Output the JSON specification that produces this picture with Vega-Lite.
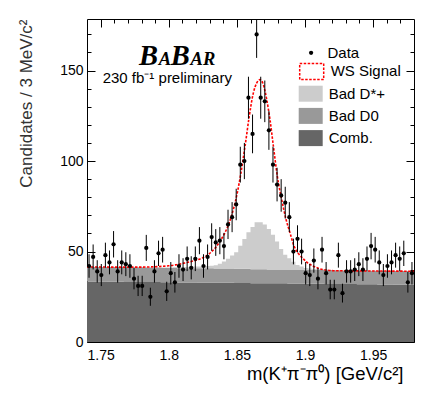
{
  "$schema": "https://vega.github.io/schema/vega-lite/v6.json",
  "autosize": {"type": "none"},
  "width": 327,
  "height": 323,
  "padding": {"left": 87, "top": 19, "right": 22, "bottom": 56},
  "config": {
    "view": {"stroke": null},
    "font": "Liberation Sans",
    "axis": {"grid": false, "zindex": 1, "tickColor": "black", "tickWidth": 1, "domainColor": "black", "domainWidth": 1, "labelColor": "black", "labelFont": "Liberation Sans", "titleFont": "Liberation Sans", "titleFontWeight": "normal", "titleColor": "black", "labelFlush": false},
    "legend": {"titleFontSize": 0, "labelFont": "Liberation Sans", "labelFontSize": 15, "labelColor": "black", "padding": 0, "orient": "none"}
  },
  "resolve": {"axis": {"x": "independent", "y": "independent"}},
  "datasets": {
    "bk": [
      {"x":1.740,"Comb":33.4,"D0":8.1,"Dst":0},{"x":1.743,"Comb":33.4,"D0":8.1,"Dst":0},{"x":1.746,"Comb":33.4,"D0":8.1,"Dst":0},{"x":1.749,"Comb":33.4,"D0":8.1,"Dst":0},
      {"x":1.752,"Comb":33.4,"D0":8.1,"Dst":0},{"x":1.755,"Comb":33.3,"D0":8.1,"Dst":0},{"x":1.758,"Comb":33.3,"D0":8.1,"Dst":0},{"x":1.761,"Comb":33.3,"D0":8.1,"Dst":0},
      {"x":1.764,"Comb":33.3,"D0":8.1,"Dst":0},{"x":1.767,"Comb":33.2,"D0":8.1,"Dst":0},{"x":1.770,"Comb":33.2,"D0":8.1,"Dst":0},{"x":1.773,"Comb":33.2,"D0":8.1,"Dst":0},
      {"x":1.776,"Comb":33.2,"D0":8.1,"Dst":0},{"x":1.779,"Comb":33.2,"D0":8.1,"Dst":0},{"x":1.782,"Comb":33.1,"D0":8.1,"Dst":0},{"x":1.785,"Comb":33.1,"D0":8.1,"Dst":0},
      {"x":1.788,"Comb":33.1,"D0":8.1,"Dst":0},{"x":1.791,"Comb":33.1,"D0":8.1,"Dst":0},{"x":1.794,"Comb":33.0,"D0":8.1,"Dst":0},{"x":1.797,"Comb":33.0,"D0":8.1,"Dst":0},
      {"x":1.800,"Comb":33.0,"D0":7.9,"Dst":0.3},{"x":1.803,"Comb":33.0,"D0":7.9,"Dst":0.4},{"x":1.806,"Comb":32.9,"D0":7.9,"Dst":0.5},{"x":1.809,"Comb":32.9,"D0":7.9,"Dst":0.6},
      {"x":1.812,"Comb":32.9,"D0":7.9,"Dst":0.7},{"x":1.815,"Comb":32.9,"D0":7.9,"Dst":0.8},{"x":1.818,"Comb":32.9,"D0":7.9,"Dst":0.9},{"x":1.821,"Comb":32.8,"D0":7.9,"Dst":1.0},
      {"x":1.824,"Comb":32.8,"D0":7.9,"Dst":1.1},{"x":1.827,"Comb":32.8,"D0":7.9,"Dst":1.3},{"x":1.830,"Comb":32.8,"D0":7.9,"Dst":1.5},{"x":1.833,"Comb":32.7,"D0":7.9,"Dst":1.8},
      {"x":1.836,"Comb":32.7,"D0":7.9,"Dst":2.6},{"x":1.839,"Comb":32.7,"D0":7.9,"Dst":3.9},{"x":1.842,"Comb":32.7,"D0":7.9,"Dst":5.4},{"x":1.845,"Comb":32.7,"D0":7.9,"Dst":7.2},
      {"x":1.848,"Comb":32.6,"D0":7.9,"Dst":9.1},{"x":1.851,"Comb":32.6,"D0":7.9,"Dst":12.7},{"x":1.854,"Comb":32.6,"D0":7.9,"Dst":16.4},{"x":1.857,"Comb":32.6,"D0":7.9,"Dst":20.1},
      {"x":1.860,"Comb":32.5,"D0":7.7,"Dst":23.4},{"x":1.863,"Comb":32.5,"D0":7.7,"Dst":26.0},{"x":1.866,"Comb":32.5,"D0":7.7,"Dst":26.0},{"x":1.869,"Comb":32.5,"D0":7.7,"Dst":24.7},
      {"x":1.872,"Comb":32.4,"D0":7.7,"Dst":22.3},{"x":1.875,"Comb":32.4,"D0":7.7,"Dst":19.2},{"x":1.878,"Comb":32.4,"D0":7.7,"Dst":15.5},{"x":1.881,"Comb":32.4,"D0":7.7,"Dst":11.3},
      {"x":1.884,"Comb":32.4,"D0":7.7,"Dst":8.1},{"x":1.887,"Comb":32.3,"D0":7.7,"Dst":6.3},{"x":1.890,"Comb":32.3,"D0":7.7,"Dst":4.4},{"x":1.893,"Comb":32.3,"D0":7.7,"Dst":2.6},
      {"x":1.896,"Comb":32.3,"D0":7.7,"Dst":1.7},{"x":1.899,"Comb":32.2,"D0":7.7,"Dst":1.0},{"x":1.902,"Comb":32.2,"D0":7.7,"Dst":0.7},{"x":1.905,"Comb":32.2,"D0":7.7,"Dst":0.5},
      {"x":1.908,"Comb":32.2,"D0":7.7,"Dst":0.4},{"x":1.911,"Comb":32.2,"D0":7.7,"Dst":0.3},{"x":1.914,"Comb":32.1,"D0":7.7,"Dst":0.2},{"x":1.917,"Comb":32.1,"D0":7.7,"Dst":0},
      {"x":1.920,"Comb":32.1,"D0":7.5,"Dst":0},{"x":1.923,"Comb":32.1,"D0":7.5,"Dst":0},{"x":1.926,"Comb":32.0,"D0":7.5,"Dst":0},{"x":1.929,"Comb":32.0,"D0":7.5,"Dst":0},
      {"x":1.932,"Comb":32.0,"D0":7.5,"Dst":0},{"x":1.935,"Comb":32.0,"D0":7.5,"Dst":0},{"x":1.938,"Comb":31.9,"D0":7.5,"Dst":0},{"x":1.941,"Comb":31.9,"D0":7.5,"Dst":0},
      {"x":1.944,"Comb":31.9,"D0":7.5,"Dst":0},{"x":1.947,"Comb":31.9,"D0":7.5,"Dst":0},{"x":1.950,"Comb":31.9,"D0":7.5,"Dst":0},{"x":1.953,"Comb":31.8,"D0":7.5,"Dst":0},
      {"x":1.956,"Comb":31.8,"D0":7.5,"Dst":0},{"x":1.959,"Comb":31.8,"D0":7.5,"Dst":0},{"x":1.962,"Comb":31.8,"D0":7.5,"Dst":0},{"x":1.965,"Comb":31.7,"D0":7.5,"Dst":0},
      {"x":1.968,"Comb":31.7,"D0":7.5,"Dst":0},{"x":1.971,"Comb":31.7,"D0":7.5,"Dst":0},{"x":1.974,"Comb":31.7,"D0":7.5,"Dst":0},{"x":1.977,"Comb":31.7,"D0":7.5,"Dst":0},
      {"x":1.980,"Comb":31.7,"D0":7.5,"Dst":0}
    ],
    "h": [
      {"m":1.7415,"n":42,"err":6.5},{"m":1.7445,"n":47,"err":6.9},{"m":1.7475,"n":39,"err":6.2},{"m":1.7505,"n":37,"err":6.1},
      {"m":1.7535,"n":48,"err":6.9},{"m":1.7565,"n":44,"err":6.6},{"m":1.7595,"n":54,"err":7.3},{"m":1.7625,"n":39,"err":6.2},
      {"m":1.7655,"n":44,"err":6.6},{"m":1.7685,"n":43,"err":6.6},{"m":1.7715,"n":42,"err":6.5},{"m":1.7745,"n":35,"err":5.9},
      {"m":1.7775,"n":31,"err":5.6},{"m":1.7805,"n":31,"err":5.6},{"m":1.7835,"n":52,"err":7.2},{"m":1.7865,"n":25,"err":5.0},
      {"m":1.7895,"n":39,"err":6.2},{"m":1.7925,"n":49,"err":7.0},{"m":1.7955,"n":51,"err":7.1},{"m":1.7985,"n":28,"err":5.3},
      {"m":1.8015,"n":38,"err":6.2},{"m":1.8045,"n":33,"err":5.7},{"m":1.8075,"n":42,"err":6.5},{"m":1.8105,"n":40,"err":6.3},
      {"m":1.8135,"n":46,"err":6.8},{"m":1.8165,"n":41,"err":6.4},{"m":1.8195,"n":46,"err":6.8},{"m":1.8225,"n":56,"err":7.5},
      {"m":1.8255,"n":42,"err":6.5},{"m":1.8285,"n":47,"err":6.9},{"m":1.8315,"n":58,"err":7.6},{"m":1.8345,"n":55,"err":7.4},
      {"m":1.8375,"n":56,"err":7.5},{"m":1.8405,"n":53,"err":7.3},{"m":1.8435,"n":65,"err":8.1},{"m":1.8465,"n":69,"err":8.3},
      {"m":1.8495,"n":76,"err":8.7},{"m":1.8525,"n":98,"err":9.9},{"m":1.8555,"n":100,"err":10.0},{"m":1.8585,"n":135,"err":11.6},
      {"m":1.8615,"n":115,"err":10.7},{"m":1.8645,"n":170,"err":13.0},{"m":1.8675,"n":135,"err":11.6},{"m":1.8705,"n":133,"err":11.5},
      {"m":1.8735,"n":117,"err":10.8},{"m":1.8765,"n":98,"err":9.9},{"m":1.8795,"n":87,"err":9.3},{"m":1.8825,"n":81,"err":9.0},
      {"m":1.8855,"n":77,"err":8.8},{"m":1.8885,"n":69,"err":8.3},{"m":1.8915,"n":50,"err":7.1},{"m":1.8945,"n":57,"err":7.5},
      {"m":1.8975,"n":50,"err":7.1},{"m":1.9005,"n":38,"err":6.2},{"m":1.9035,"n":37,"err":6.1},{"m":1.9065,"n":45,"err":6.7},
      {"m":1.9095,"n":35,"err":5.9},{"m":1.9125,"n":51,"err":7.1},{"m":1.9155,"n":38,"err":6.2},{"m":1.9185,"n":29,"err":5.4},
      {"m":1.9215,"n":29,"err":5.4},{"m":1.9245,"n":48,"err":6.9},{"m":1.9275,"n":27,"err":5.2},{"m":1.9305,"n":39,"err":6.2},
      {"m":1.9335,"n":39,"err":6.2},{"m":1.9365,"n":40,"err":6.3},{"m":1.9395,"n":43,"err":6.6},{"m":1.9425,"n":40,"err":6.3},
      {"m":1.9455,"n":46,"err":6.8},{"m":1.9485,"n":53,"err":7.3},{"m":1.9515,"n":51,"err":7.1},{"m":1.9545,"n":44,"err":6.6},
      {"m":1.9575,"n":37,"err":6.1},{"m":1.9605,"n":42,"err":6.5},{"m":1.9635,"n":44,"err":6.6},{"m":1.9665,"n":48,"err":6.9},
      {"m":1.9695,"n":46,"err":6.8},{"m":1.9725,"n":49,"err":7.0},{"m":1.9755,"n":33,"err":5.7},{"m":1.9785,"n":38,"err":6.2}
    ],
    "sig": [
      {"m":1.740,"v":41.5},{"m":1.760,"v":41.4},{"m":1.780,"v":41.4},{"m":1.790,"v":41.6},
      {"m":1.800,"v":42.1},{"m":1.805,"v":42.6},{"m":1.810,"v":43.4},{"m":1.815,"v":44.2},
      {"m":1.820,"v":45.2},{"m":1.825,"v":46.6},{"m":1.829,"v":48.3},{"m":1.832,"v":50.3},
      {"m":1.8351,"v":52.9},{"m":1.838,"v":56.2},{"m":1.8412,"v":60.3},{"m":1.8444,"v":65.9},
      {"m":1.8474,"v":73.2},{"m":1.8503,"v":82.4},{"m":1.853,"v":93.5},{"m":1.856,"v":108.2},
      {"m":1.8591,"v":124.8},{"m":1.8621,"v":137.7},{"m":1.8646,"v":143.2},{"m":1.867,"v":145.0},
      {"m":1.8694,"v":142.3},{"m":1.8719,"v":134.0},{"m":1.8743,"v":122.9},{"m":1.8768,"v":108.2},
      {"m":1.8797,"v":91.6},{"m":1.8829,"v":78.7},{"m":1.8861,"v":67.7},{"m":1.889,"v":60.3},
      {"m":1.892,"v":52.9},{"m":1.8955,"v":48.6},{"m":1.899,"v":45.8},{"m":1.9013,"v":44.1},
      {"m":1.9062,"v":41.9},{"m":1.9111,"v":40.4},{"m":1.916,"v":39.7},{"m":1.921,"v":39.4},
      {"m":1.940,"v":39.3},{"m":1.960,"v":39.2},{"m":1.980,"v":39.1}
    ]
  },
  "layer": [
    {
      "data": {"name": "bk"},
      "transform": [
        {"fold": ["Comb", "D0", "Dst"], "as": ["comp", "v"]}
      ],
      "mark": {"type": "area", "interpolate": "step-after", "opacity": 1},
      "encoding": {
        "x": {"field": "x", "type": "quantitative", "scale": {"domain": [1.74, 1.98], "nice": false, "zero": false},
          "axis": {"orient": "bottom", "values": [1.75, 1.8, 1.85, 1.9, 1.95], "format": "~g", "tickSize": -8, "labelPadding": 14, "labelFontSize": 14, "domain": true,
            "title": "m(K⁺π⁻π⁰) [GeV/c²]", "titleAnchor": "end", "titleAlign": "right", "titleX": 316, "titleFontSize": 18.5, "titlePadding": 2}},
        "y": {"field": "v", "type": "quantitative", "stack": "zero", "scale": {"domain": [0, 178.5], "nice": false, "clamp": true},
          "axis": {"orient": "left", "values": [0, 50, 100, 150], "tickSize": -8, "labelPadding": 12, "labelFontSize": 14, "domain": true,
            "title": "Candidates / 3 MeV/c²", "titleAnchor": "end", "titleFontSize": 17, "titleColor": "#333333", "titleX": -56, "titleBaseline": "alphabetic"}},
        "color": {"field": "comp", "type": "nominal",
          "scale": {"domain": ["Dst", "D0", "Comb"], "range": ["#cccccc", "#999999", "#666666"]},
          "legend": {
            "legendX": 215.7, "legendY": 66.7, "title": null,
            "symbolType": "M-1.5,-1H1.5V1H-1.5Z", "symbolSize": 256, "symbolStrokeWidth": 0, "symbolOpacity": 1,
            "labelOffset": 10, "rowPadding": 6.2,
            "labelExpr": "datum.label == 'Comb' ? 'Comb.' : datum.label == 'D0' ? 'Bad D0' : datum.label == 'Dst' ? 'Bad D*+' : datum.label"
          }},
        "order": {"field": "comp", "sort": "ascending"}
      }
    },
    {
      "data": {"name": "sig"},
      "mark": {"type": "line", "color": "#ff0000", "strokeWidth": 1.6, "interpolate": "monotone"},
      "encoding": {
        "x": {"field": "m", "type": "quantitative",
          "axis": {"orient": "top", "values": [1.75, 1.8, 1.85, 1.9, 1.95], "tickSize": -8, "labels": false, "domain": true, "title": null}},
        "y": {"field": "v", "type": "quantitative",
          "axis": {"orient": "right", "values": [0, 50, 100, 150], "tickSize": -8, "labels": false, "domain": true, "title": null}},
        "strokeDash": {"datum": "WS Signal", "type": "nominal", "scale": {"domain": ["WS Signal"], "range": [[2.5, 1.5]]},
          "legend": {"legendX": 215.7, "legendY": 43.4, "title": null,
            "symbolType": "M-1.5,-1H1.5V1H-1.5Z", "symbolSize": 256, "symbolStrokeColor": "#ff0000", "symbolFillColor": "transparent",
            "symbolStrokeWidth": 1.5, "symbolDash": [2, 1.5], "labelOffset": 10}}
      }
    },
    {
      "data": {"name": "h"},
      "mark": {"type": "errorbar", "color": "#000000", "thickness": 1},
      "encoding": {
        "x": {"field": "m", "type": "quantitative", "axis": null},
        "y": {"field": "n", "type": "quantitative", "axis": null},
        "yError": {"field": "err"}
      }
    },
    {
      "data": {"name": "h"},
      "mark": {"type": "point", "filled": true, "size": 18, "color": "#000000", "opacity": 1},
      "encoding": {
        "x": {"field": "m", "type": "quantitative",
          "axis": {"orient": "bottom", "values": [1.76,1.77,1.78,1.79,1.81,1.82,1.83,1.84,1.86,1.87,1.88,1.89,1.91,1.92,1.93,1.94,1.96,1.97], "tickSize": -4, "labels": false, "domain": false, "title": null}},
        "y": {"field": "n", "type": "quantitative",
          "axis": {"orient": "left", "values": [10,20,30,40,60,70,80,90,110,120,130,140,160,170], "tickSize": -4, "labels": false, "domain": false, "title": null}},
        "shape": {"datum": "Data", "type": "nominal", "scale": {"domain": ["Data"], "range": ["circle"]},
          "legend": {"legendX": 216.6, "legendY": 26.3, "title": null, "symbolSize": 18, "symbolFillColor": "#000000", "symbolStrokeWidth": 0, "labelOffset": 8.9}}
      }
    },
    {
      "data": {"values": [{"t": "B", "m": 1.7782}, {"t": "B", "m": 1.8015}]},
      "mark": {"type": "text", "font": "Liberation Serif", "fontStyle": "italic", "fontWeight": "bold", "fontSize": 28.5, "align": "left", "baseline": "alphabetic", "color": "#000000"},
      "encoding": {
        "x": {"field": "m", "type": "quantitative", "axis": null},
        "y": {"datum": 153.3, "type": "quantitative", "axis": null},
        "text": {"field": "t"}
      }
    },
    {
      "data": {"values": [{"t": "A", "m": 1.7926}, {"t": "AR", "m": 1.816}]},
      "mark": {"type": "text", "font": "Liberation Serif", "fontStyle": "italic", "fontWeight": "bold", "fontSize": 18.5, "align": "left", "baseline": "alphabetic", "color": "#000000"},
      "encoding": {
        "x": {"field": "m", "type": "quantitative", "axis": null},
        "y": {"datum": 153.3, "type": "quantitative", "axis": null},
        "text": {"field": "t"}
      }
    },
    {
      "data": {"values": [{"t": "230 fb⁻¹ preliminary", "m": 1.7515}]},
      "mark": {"type": "text", "font": "Liberation Sans", "fontSize": 15, "align": "left", "baseline": "alphabetic", "color": "#000000"},
      "encoding": {
        "x": {"field": "m", "type": "quantitative",
          "axis": {"orient": "top", "values": [1.76,1.77,1.78,1.79,1.81,1.82,1.83,1.84,1.86,1.87,1.88,1.89,1.91,1.92,1.93,1.94,1.96,1.97], "tickSize": -4, "labels": false, "domain": false, "title": null}},
        "y": {"datum": 143.2, "type": "quantitative",
          "axis": {"orient": "right", "values": [10,20,30,40,60,70,80,90,110,120,130,140,160,170], "tickSize": -4, "labels": false, "domain": false, "title": null}},
        "text": {"field": "t"}
      }
    }
  ]
}
